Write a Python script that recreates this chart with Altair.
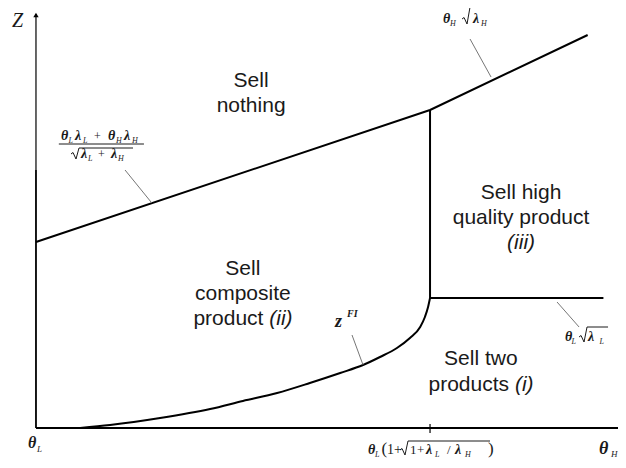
import altair as alt
import pandas as pd

W, H = 610, 452
X_DOM = [-0.071, 1.477]
Y_DOM = [-0.32, 4.20]
KX = W / (X_DOM[1] - X_DOM[0])
KY = H / (Y_DOM[1] - Y_DOM[0])

# ---- regime boundaries (theta in units of the threshold, Z) ----
upper_theta = [0.0, 1.0, 1.40]
upper_z = [1.86, 3.18, 3.93]
high_theta = [1.0, 1.0]
high_z = [1.30, 3.18]
low_theta = [1.0, 1.44]
low_z = [1.30, 1.30]
zfi_theta = [0.112, 0.188, 0.315, 0.442, 0.525, 0.612, 0.695, 0.772, 0.830,
             0.873, 0.916, 0.949, 0.975, 0.987, 0.995, 1.0]
zfi_z = [0.00, 0.03, 0.10, 0.19, 0.27, 0.35, 0.45, 0.55, 0.63,
         0.71, 0.80, 0.90, 1.01, 1.11, 1.21, 1.30]

# axes
xaxis_theta = [0.0, 1.477]
xaxis_z = [0.0, 0.0]
yaxis_thin_z = [2.58, 4.14]
yaxis_thick_z = [0.0, 2.58]
tick_z = [0.04, -0.05]
arrow_z = [4.13]

# region labels: (theta, z, text)
region_center = [
    (0.546, 3.41, "Sell"), (0.546, 3.16, "nothing"),
    (0.525, 1.53, "Sell"), (0.525, 1.28, "composite"),
    (1.231, 2.29, "Sell high"), (1.231, 2.04, "quality product"),
    (1.129, 0.63, "Sell two"),
]
region_right = [(0.5772, 1.03, "product"), (1.2005, 0.37, "products")]
region_italic_left = [(0.5921, 1.03, "(ii)"), (1.2155, 0.37, "(i)")]
region_italic_center = [(1.231, 1.79, "(iii)")]

# formula labels: anchor (theta, z) and pieces (dx px, dy px, text, size, style)
formulas = [
    ((0.0635, 2.88), [(0, 0, "θ", 14, "bi"), (7.5, 3, "L", 8, "it"), (14, 0, "λ", 14, "bi"),
                      (22, 3, "L", 8, "it"), (33, 0, "+", 12, "rg"), (47, 0, "θ", 14, "bi"),
                      (55, 3, "H", 8, "it"), (63, 0, "λ", 14, "bi"), (71, 3, "H", 8, "it"),
                      (20, 18, "λ", 14, "bi"), (27, 21, "L", 8, "it"), (37, 18, "+", 12, "rg"),
                      (50, 18, "λ", 14, "bi"), (57, 21, "H", 8, "it")]),
    ((1.033, 4.05), [(0, 0, "θ", 14, "bi"), (7, 3, "H", 8, "it"),
                     (30, 0, "λ", 14, "bi"), (38, 3, "H", 8, "it")]),
    ((1.3426, 0.87), [(0, 0, "θ", 14, "bi"), (6.5, 3, "L", 8, "it"),
                      (23, 0, "λ", 14, "bi"), (34.5, 3, "L", 8, "it")]),
    ((0.8426, -0.26), [(0, 0, "θ", 14, "bi"), (7, 3, "L", 8, "it"), (13.5, 0, "(", 17, "rg"),
                       (19, 0, "1+", 14, "rg"), (42, 0, "1", 13, "rg"), (49, 0, "+", 13, "rg"),
                       (58, 0, "λ", 14, "bi"), (67, 3, "L", 8, "it"), (79, 0, "/", 13, "rg"),
                       (87, 0, "λ", 14, "bi"), (97, 3, "H", 8, "it"), (120, 0, ")", 17, "rg")]),
    ((0.759, 1.01), [(0, 0, "z", 18, "bi"), (12, -10, "FI", 10, "bi")]),
    ((-0.0203, -0.20), [(0, 0, "θ", 16, "bi"), (9, 4, "L", 9, "it")]),
    ((1.429, -0.26), [(0, 0, "θ", 18, "bi"), (12, 3, "H", 9, "it")]),
    ((-0.061, 4.01), [(0, 0, "Z", 20, "it")]),
]

# radicals: anchor (theta, z of baseline), left dx, base dy, top dy, end dx (px)
radicals = [
    ((0.0635, 2.88), 10, 18, 8, 72),
    ((1.033, 4.05), 19, 0, -16, 50),
    ((1.3426, 0.87), 14, 0, -14, 43),
    ((0.8426, -0.26), 32, 0, -13, 122),
]
fraction_bar = ((0.058, 0.274), 2.84)

# leader lines: (theta0, z0, theta1, z1)
leaders = [
    (0.226, 2.58, 0.294, 2.25),
    (1.1015, 3.89, 1.1548, 3.51),
    (1.3223, 1.26, 1.3782, 1.01),
    (0.802, 0.93, 0.830, 0.63),
]

# ---------------- build tables ----------------
def seg_rows(kind, name, xs, ys):
    return [dict(kind=kind, seg=name, order=i, x=a, y=b) for i, (a, b) in enumerate(zip(xs, ys))]

rows = []
rows += seg_rows("bound", "upper", upper_theta, upper_z)
rows += seg_rows("bound", "high", high_theta, high_z)
rows += seg_rows("bound", "low", low_theta, low_z)
rows += seg_rows("axis", "xaxis", xaxis_theta, xaxis_z)
rows += seg_rows("axis", "ythick", [0.0, 0.0], yaxis_thick_z)
rows += seg_rows("axisthin", "ythin", [0.0, 0.0], yaxis_thin_z)
rows += seg_rows("axisthin", "tick", [1.0, 1.0], tick_z)
for i, (a, b, c, d) in enumerate(leaders):
    rows += seg_rows("leader", f"lead{i}", [a, c], [b, d])
rows += seg_rows("thin", "fbar", list(fraction_bar[0]), [fraction_bar[1]] * 2)
for i, ((ax, az), dxl, base, top, end) in enumerate(radicals):
    pts = [(dxl, base - 4), (dxl + 2, base - 5.5), (dxl + 5, base + 1), (dxl + 8, top), (end, top)]
    rows += seg_rows("thin", f"rad{i}", [ax + p[0] / KX for p in pts], [az - p[1] / KY for p in pts])
lines = pd.DataFrame(rows)
curve = pd.DataFrame(dict(x=zfi_theta, y=zfi_z))

trows = []
for (x, y, t) in region_center:
    trows.append(dict(x=x, y=y, text=t, size=21, style="sans_c"))
for (x, y, t) in region_right:
    trows.append(dict(x=x, y=y, text=t, size=21, style="sans_r"))
for (x, y, t) in region_italic_left:
    trows.append(dict(x=x, y=y, text=t, size=21, style="sans_il"))
for (x, y, t) in region_italic_center:
    trows.append(dict(x=x, y=y, text=t, size=21, style="sans_ic"))
for (ax, az), pieces in formulas:
    for dx, dy, t, s, st in pieces:
        trows.append(dict(x=ax + dx / KX, y=az - dy / KY, text=t, size=s, style=st))
texts = pd.DataFrame(trows)

xs = alt.X("x:Q", scale=alt.Scale(domain=X_DOM, nice=False, zero=False), axis=None)
ys = alt.Y("y:Q", scale=alt.Scale(domain=Y_DOM, nice=False, zero=False), axis=None)


def line_layer(kind, width, color="#000000"):
    return alt.Chart(lines[lines.kind == kind]).mark_line(
        strokeWidth=width, color=color, strokeCap="butt", strokeJoin="round"
    ).encode(x=xs, y=ys, detail="seg:N", order="order:Q")


def text_layer(style, font, align, italic=False, bold=False):
    kw = dict(font=font, align=align, baseline="alphabetic", color="#1a1a1a")
    if italic:
        kw["fontStyle"] = "italic"
    if bold:
        kw["fontWeight"] = "bold"
    return alt.Chart(texts[texts["style"] == style]).mark_text(**kw).encode(
        x=xs, y=ys, text="text:N", size=alt.Size("size:Q", scale=None, legend=None)
    )


layers = [
    line_layer("bound", 2.0),
    alt.Chart(curve).mark_line(strokeWidth=2.0, color="#000000", interpolate="monotone").encode(x=xs, y=ys),
    line_layer("axis", 1.8),
    line_layer("axisthin", 1.2),
    line_layer("leader", 0.9, "#666666"),
    line_layer("thin", 1.0, "#1a1a1a"),
    alt.Chart(pd.DataFrame(dict(x=[0.0], y=arrow_z))).mark_point(
        shape="triangle-up", size=28, filled=True, color="#000000", opacity=1
    ).encode(x=xs, y=ys),
    text_layer("sans_c", "Liberation Sans", "center"),
    text_layer("sans_r", "Liberation Sans", "right"),
    text_layer("sans_il", "Liberation Sans", "left", italic=True),
    text_layer("sans_ic", "Liberation Sans", "center", italic=True),
    text_layer("bi", "Liberation Serif", "left", italic=True, bold=True),
    text_layer("it", "Liberation Serif", "left", italic=True),
    text_layer("rg", "Liberation Serif", "left"),
]

chart = alt.layer(*layers).properties(
    width=W, height=H, padding=0, autosize=alt.AutoSizeParams(type="none")
).configure_view(strokeWidth=0)

chart.save("out.html", embed_options={"renderer": "svg", "actions": False})
